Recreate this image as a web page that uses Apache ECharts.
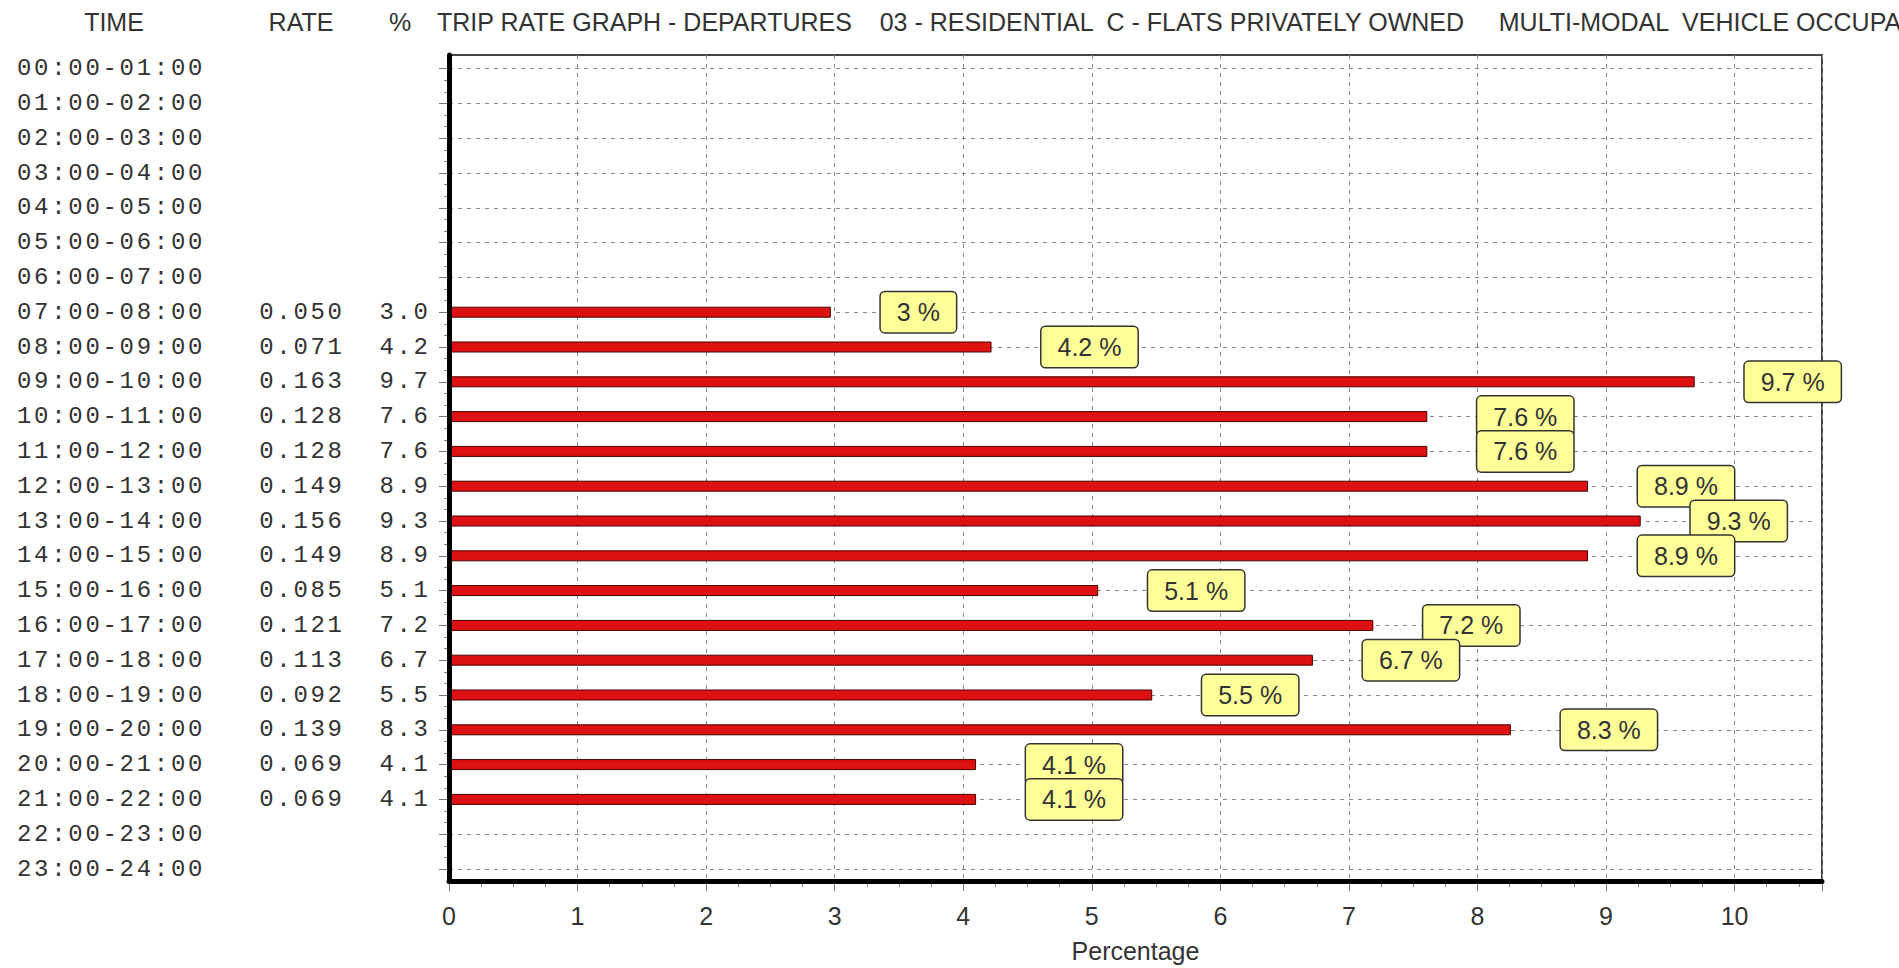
<!DOCTYPE html>
<html><head><meta charset="utf-8">
<style>
html,body{margin:0;padding:0;background:#fff;}
#chart{width:1899px;height:968px;}
#chart text[style*="Liberation Mono"]{letter-spacing:2.7px;}
</style>
<script src="https://cdn.jsdelivr.net/npm/echarts@6/dist/echarts.min.js"></script>
</head><body><div id="chart"></div>
<script>
// ---- data ----
const times = ['00:00-01:00','01:00-02:00','02:00-03:00','03:00-04:00','04:00-05:00','05:00-06:00',
  '06:00-07:00','07:00-08:00','08:00-09:00','09:00-10:00','10:00-11:00','11:00-12:00',
  '12:00-13:00','13:00-14:00','14:00-15:00','15:00-16:00','16:00-17:00','17:00-18:00',
  '18:00-19:00','19:00-20:00','20:00-21:00','21:00-22:00','22:00-23:00','23:00-24:00'];
const rates = ['','','','','','','','0.050','0.071','0.163','0.128','0.128','0.149','0.156',
  '0.149','0.085','0.121','0.113','0.092','0.139','0.069','0.069','',''];
const pcts = ['','','','','','','','3.0','4.2','9.7','7.6','7.6','8.9','9.3',
  '8.9','5.1','7.2','6.7','5.5','8.3','4.1','4.1','',''];
const barValues = [null,null,null,null,null,null,null,2.97,4.22,9.69,7.61,7.61,8.86,9.27,
  8.86,5.05,7.19,6.72,5.47,8.26,4.10,4.10,null,null];
const barLabels = ['','','','','','','','3 %','4.2 %','9.7 %','7.6 %','7.6 %','8.9 %','9.3 %',
  '8.9 %','5.1 %','7.2 %','6.7 %','5.5 %','8.3 %','4.1 %','4.1 %','',''];
const headers = ['TIME','RATE','%'];
const titleText = 'TRIP RATE GRAPH - DEPARTURES    03 - RESIDENTIAL  C - FLATS PRIVATELY OWNED     MULTI-MODAL  VEHICLE OCCUPANTS';
const xName = 'Percentage';

// ---- layout ----
const SANS = 'Liberation Sans';
const MONO = 'Liberation Mono';
const TXT = '#333';
const L = 449, R = 1822, T = 55, B = 882.5;
const ROW0 = 68.6, ROWH = 34.8;
const XMAX = 10.68;
const LS = 2.7;

const chart = echarts.init(document.getElementById('chart'), null, {renderer: 'svg'});
const monoLabel = {interval: 0, fontFamily: MONO, fontSize: 24, color: TXT};

chart.setOption({
  animation: false,
  backgroundColor: '#fff',
  grid: [
    {left: L, top: T, width: R - L, height: B - T, show: true, borderColor: '#444', borderWidth: 2, backgroundColor: 'transparent'},
    {left: L, top: ROW0 - ROWH / 2, width: R - L, height: ROWH * 24},
    {left: L, top: ROW0, width: R - L - 7, height: ROWH * 23}
  ],
  xAxis: [
    {gridIndex: 0, type: 'value', min: 0, max: XMAX, interval: 1, position: 'bottom',
      axisLine: {show: false},
      axisTick: {show: true, length: 10, lineStyle: {color: '#777'}},
      minorTick: {show: true, splitNumber: 4, length: 6, lineStyle: {color: '#888'}},
      axisLabel: {margin: 22, fontFamily: SANS, fontSize: 25, color: TXT, showMaxLabel: false},
      splitLine: {show: true, lineStyle: {color: '#888', type: [4, 5], width: 1}},
      name: xName, nameLocation: 'middle', nameGap: 57,
      nameTextStyle: {fontFamily: SANS, fontSize: 25, color: TXT}},
    {gridIndex: 0, type: 'value', min: 0, max: XMAX, position: 'bottom', z: 10,
      axisLine: {show: true, lineStyle: {color: '#000', width: 5}},
      axisTick: {show: false}, axisLabel: {show: false}, splitLine: {show: false}},
    {gridIndex: 1, type: 'value', min: 0, max: XMAX, show: false},
    {gridIndex: 2, type: 'value', min: 0, max: XMAX, show: false}
  ],
  yAxis: [
    {gridIndex: 0, type: 'value', min: 0, max: 1, position: 'left', z: 10,
      axisLine: {show: true, lineStyle: {color: '#000', width: 5}},
      axisTick: {show: false}, axisLabel: {show: false}, splitLine: {show: false}},
    {gridIndex: 1, type: 'category', data: times, inverse: true, position: 'left',
      axisLine: {show: false}, axisTick: {show: false},
      axisLabel: Object.assign({align: 'left', margin: L - 17}, monoLabel)},
    {gridIndex: 1, type: 'category', data: times, inverse: true, position: 'left',
      axisLine: {show: false}, axisTick: {show: false},
      axisLabel: Object.assign({align: 'right', margin: L - 342 - LS, formatter: (v, i) => rates[i]}, monoLabel)},
    {gridIndex: 1, type: 'category', data: times, inverse: true, position: 'left',
      axisLine: {show: false}, axisTick: {show: false},
      axisLabel: Object.assign({align: 'right', margin: L - 428 - LS, formatter: (v, i) => pcts[i]}, monoLabel)},
    {gridIndex: 2, type: 'value', min: 0, max: 23, interval: 1, inverse: true, position: 'left',
      axisLine: {show: false},
      axisTick: {show: true, length: 10, lineStyle: {color: '#777'}},
      minorTick: {show: true, splitNumber: 3, length: 5, lineStyle: {color: '#888'}},
      axisLabel: {show: false},
      splitLine: {show: true, lineStyle: {color: '#888', type: [4, 5], width: 1}}}
  ],
  series: [{
    type: 'bar', xAxisIndex: 2, yAxisIndex: 1, data: barValues, barWidth: 11,
    itemStyle: {color: '#dd1111', borderColor: '#4a0000', borderWidth: 1},
    label: {show: true, position: 'right', distance: 50,
      formatter: p => barLabels[p.dataIndex],
      fontFamily: SANS, fontSize: 25, color: TXT, lineHeight: 26,
      backgroundColor: '#ffff99', borderColor: '#333', borderWidth: 1.5, borderRadius: 4,
      padding: [7, 16, 7, 16]}
  }],
  graphic: [
    {type: 'text', x: 114, y: 22, style: {text: headers[0], fontFamily: SANS, fontSize: 25, fill: TXT, align: 'center', verticalAlign: 'middle'}},
    {type: 'text', x: 301, y: 22, style: {text: headers[1], fontFamily: SANS, fontSize: 25, fill: TXT, align: 'center', verticalAlign: 'middle'}},
    {type: 'text', x: 400, y: 22, style: {text: headers[2], fontFamily: SANS, fontSize: 25, fill: TXT, align: 'center', verticalAlign: 'middle'}},
    {type: 'text', x: 437, y: 22, style: {text: titleText, fontFamily: SANS, fontSize: 25, fill: TXT, align: 'left', verticalAlign: 'middle'}}
  ]
});
</script>
</body></html>
